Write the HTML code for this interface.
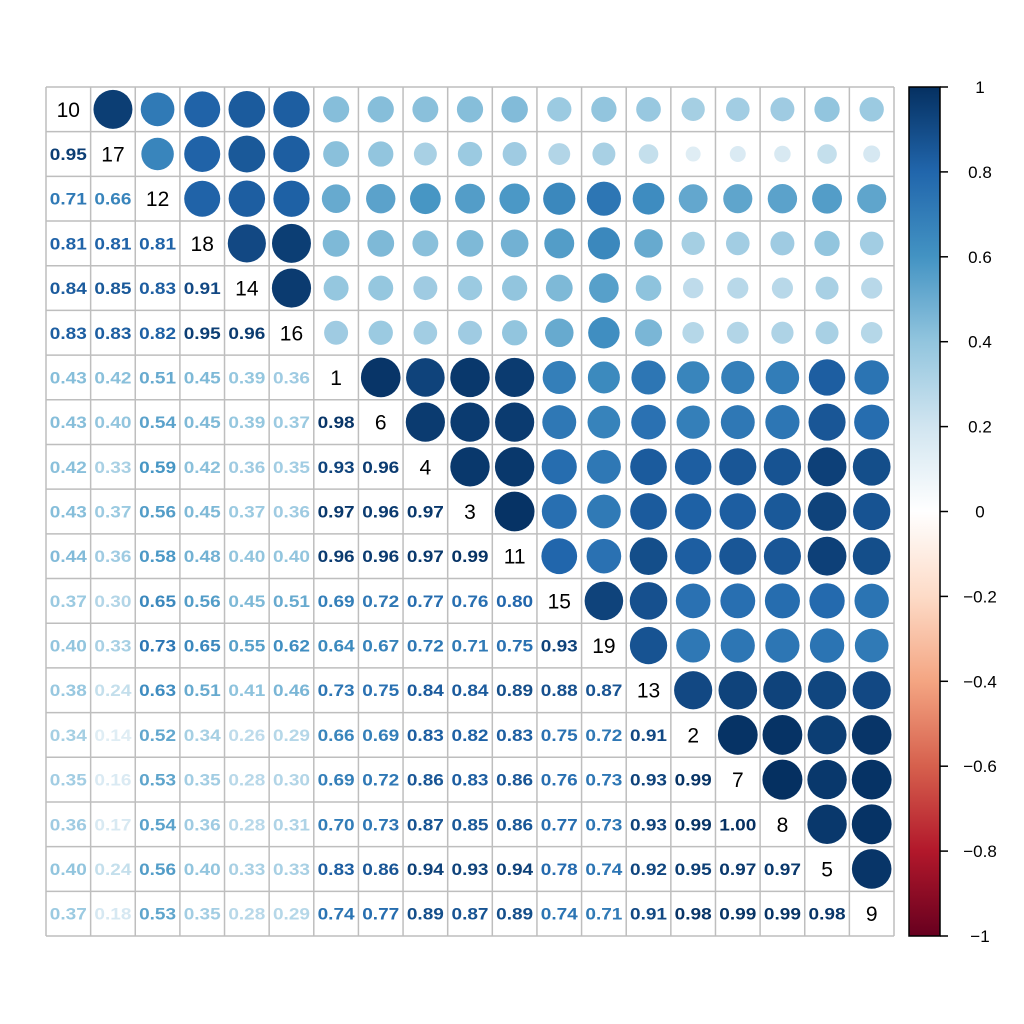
<!DOCTYPE html>
<html><head><meta charset="utf-8"><style>body{margin:0;background:#fff}svg{display:block}</style></head>
<body>
<svg id="s" width="1024" height="1024" xmlns="http://www.w3.org/2000/svg" font-family="Liberation Sans, Arial, sans-serif"></svg>
<script>
const names=[10,17,12,18,14,16,1,6,4,3,11,15,19,13,2,7,8,5,9];
const L=[[],[.95],[.71,.66],[.81,.81,.81],[.84,.85,.83,.91],[.83,.83,.82,.95,.96],
[.43,.42,.51,.45,.39,.36],[.43,.40,.54,.45,.39,.37,.98],[.42,.33,.59,.42,.36,.35,.93,.96],
[.43,.37,.56,.45,.37,.36,.97,.96,.97],[.44,.36,.58,.48,.40,.40,.96,.96,.97,.99],
[.37,.30,.65,.56,.45,.51,.69,.72,.77,.76,.80],[.40,.33,.73,.65,.55,.62,.64,.67,.72,.71,.75,.93],
[.38,.24,.63,.51,.41,.46,.73,.75,.84,.84,.89,.88,.87],[.34,.14,.52,.34,.26,.29,.66,.69,.83,.82,.83,.75,.72,.91],
[.35,.16,.53,.35,.28,.30,.69,.72,.86,.83,.86,.76,.73,.93,.99],[.36,.17,.54,.36,.28,.31,.70,.73,.87,.85,.86,.77,.73,.93,.99,1.00],
[.40,.24,.56,.40,.33,.33,.83,.86,.94,.93,.94,.78,.74,.92,.95,.97,.97],
[.37,.18,.53,.35,.28,.29,.74,.77,.89,.87,.89,.74,.71,.91,.98,.99,.99,.98]];
const stops=["#67001F","#B2182B","#D6604D","#F4A582","#FDDBC7","#FFFFFF","#D1E5F0","#92C5DE","#4393C3","#2166AC","#053061"].map(h=>[1,3,5].map(i=>parseInt(h.substr(i,2),16)));
function col(v){let t=(v+1)/2*10;let i=Math.min(9,Math.floor(t));let f=t-i;let c=stops[i].map((a,k)=>Math.round(a+(stops[i+1][k]-a)*f));return`rgb(${c})`}
const x0=46,y0=87,n=19,cs=(894-46)/19,ch=(936-87)/19;
let h='';
for(let r=0;r<n;r++)for(let c=0;c<n;c++){
 const cx=x0+cs*(c+.5),cy=y0+ch*(r+.5);
 if(r==c)h+=`<text x="${cx}" y="${cy+7.5}" text-anchor="middle" font-size="21">${names[r]}</text>`;
 else if(r>c){const v=L[r][c];h+=`<text x="${cx}" y="${cy+6}" text-anchor="middle" font-size="16.5" font-weight="bold" textLength="37" lengthAdjust="spacingAndGlyphs" fill="${col(v)}">${v.toFixed(2)}</text>`;}
 else{const v=L[c][r];h+=`<circle cx="${cx}" cy="${cy}" r="${20*Math.sqrt(Math.abs(v))}" fill="${col(v)}"/>`;}
}
for(let i=0;i<=n;i++){h+=`<line x1="${x0+cs*i}" y1="${y0}" x2="${x0+cs*i}" y2="936" stroke="#BEBEBE" stroke-width="1.5"/><line x1="${x0}" y1="${y0+ch*i}" x2="894" y2="${y0+ch*i}" stroke="#BEBEBE" stroke-width="1.5"/>`;}
h+=`<defs><linearGradient id="g" x1="0" y1="1" x2="0" y2="0">${stops.map((s,i)=>`<stop offset="${i/10}" stop-color="rgb(${s})"/>`).join('')}</linearGradient></defs>`;
h+=`<rect x="909" y="87" width="31" height="849" fill="url(#g)" stroke="#000" stroke-width="1.5"/>`;
for(let k=0;k<=10;k++){const v=1-k*.2;const y=87+849*k/10;let lab=Math.abs(v)<1e-9?'0':(Math.abs(Math.abs(v)-1)<1e-9?(v>0?'1':'\u22121'):(v<0?'\u2212':'')+Math.abs(v).toFixed(1));
h+=`<line x1="940" y1="${y}" x2="948" y2="${y}" stroke="#000" stroke-width="1.5"/><text x="980" y="${y+6}" text-anchor="middle" font-size="17">${lab}</text>`;}
document.getElementById('s').innerHTML=h;
</script>
</body></html>
